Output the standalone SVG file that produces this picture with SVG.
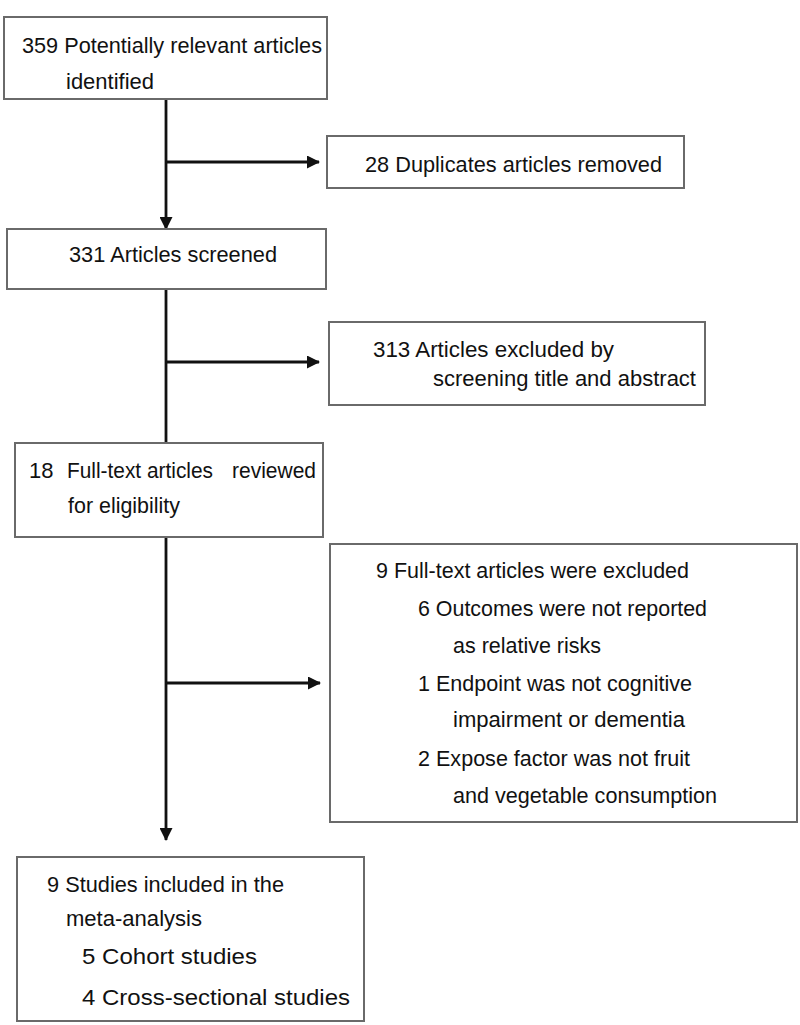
<svg xmlns="http://www.w3.org/2000/svg" width="800" height="1025" viewBox="0 0 800 1025">
<style>
.box{fill:#fff;stroke:#6a6a6a;stroke-width:2}
.t{font-family:"Liberation Sans",Arial,sans-serif;font-size:22px;fill:#111}
.c{stroke:#111;stroke-width:2.8;fill:none}
</style>
<defs>
<marker id="ahd" markerWidth="13" markerHeight="13" refX="12" refY="6.5" orient="auto" markerUnits="userSpaceOnUse" viewBox="0 0 13 13">
<path d="M0,0 L13,6.5 L0,13 Z" fill="#111"/>
</marker>
</defs>
<rect width="800" height="1025" fill="#fff"/>
<g id="connectors">
<line class="c" x1="166" y1="99" x2="166" y2="229" marker-end="url(#ahd)"/>
<line class="c" x1="166" y1="162" x2="319" y2="162" marker-end="url(#ahd)"/>
<line class="c" x1="166" y1="289" x2="166" y2="443"/>
<line class="c" x1="166" y1="362" x2="319" y2="362" marker-end="url(#ahd)"/>
<line class="c" x1="166" y1="537" x2="166" y2="840" marker-end="url(#ahd)"/>
<line class="c" x1="166" y1="683" x2="320" y2="683" marker-end="url(#ahd)"/>
</g>
<g id="n-identified">
<rect class="box" x="4" y="17" width="323" height="82"/>
<text class="t" x="22" y="53" textLength="300" lengthAdjust="spacingAndGlyphs">359 Potentially relevant articles</text>
<text class="t" x="66" y="89" textLength="88" lengthAdjust="spacingAndGlyphs">identified</text>
</g>
<g id="n-duplicates">
<rect class="box" x="327" y="136" width="357" height="52"/>
<text class="t" x="365" y="172" textLength="297" lengthAdjust="spacingAndGlyphs">28 Duplicates articles removed</text>
</g>
<g id="n-screened">
<rect class="box" x="7" y="229" width="319" height="60"/>
<text class="t" x="69" y="262" textLength="208" lengthAdjust="spacingAndGlyphs">331 Articles screened</text>
</g>
<g id="n-excluded-title">
<rect class="box" x="329" y="322" width="376" height="83"/>
<text class="t" x="373" y="357" textLength="241" lengthAdjust="spacingAndGlyphs">313 Articles excluded by</text>
<text class="t" x="433" y="386" textLength="263" lengthAdjust="spacingAndGlyphs">screening title and abstract</text>
</g>
<g id="n-fulltext">
<rect class="box" x="15" y="443" width="308" height="94"/>
<text class="t" x="29" y="478">18</text>
<text class="t" x="67" y="478" textLength="146" lengthAdjust="spacingAndGlyphs">Full-text articles</text>
<text class="t" x="232" y="478" textLength="84" lengthAdjust="spacingAndGlyphs">reviewed</text>
<text class="t" x="68" y="513" textLength="112" lengthAdjust="spacingAndGlyphs">for eligibility</text>
</g>
<g id="n-excluded-fulltext">
<rect class="box" x="330" y="544" width="467" height="278"/>
<text class="t" x="376" y="578" textLength="313" lengthAdjust="spacingAndGlyphs">9 Full-text articles were excluded</text>
<text class="t" x="418" y="616" textLength="289" lengthAdjust="spacingAndGlyphs">6 Outcomes were not reported</text>
<text class="t" x="453" y="653" textLength="148" lengthAdjust="spacingAndGlyphs">as relative risks</text>
<text class="t" x="418" y="691" textLength="274" lengthAdjust="spacingAndGlyphs">1 Endpoint was not cognitive</text>
<text class="t" x="453" y="727" textLength="232" lengthAdjust="spacingAndGlyphs">impairment  or dementia</text>
<text class="t" x="418" y="766" textLength="272" lengthAdjust="spacingAndGlyphs">2 Expose factor was not fruit</text>
<text class="t" x="453" y="803" textLength="264" lengthAdjust="spacingAndGlyphs">and vegetable consumption</text>
</g>
<g id="n-included">
<rect class="box" x="17" y="857" width="347" height="164"/>
<text class="t" x="47" y="892" textLength="237" lengthAdjust="spacingAndGlyphs">9 Studies included in the</text>
<text class="t" x="66" y="926" textLength="136" lengthAdjust="spacingAndGlyphs">meta-analysis</text>
<text class="t" x="82" y="964" textLength="175" lengthAdjust="spacingAndGlyphs">5 Cohort studies</text>
<text class="t" x="82" y="1005" textLength="268" lengthAdjust="spacingAndGlyphs">4 Cross-sectional studies</text>
</g>
</svg>
